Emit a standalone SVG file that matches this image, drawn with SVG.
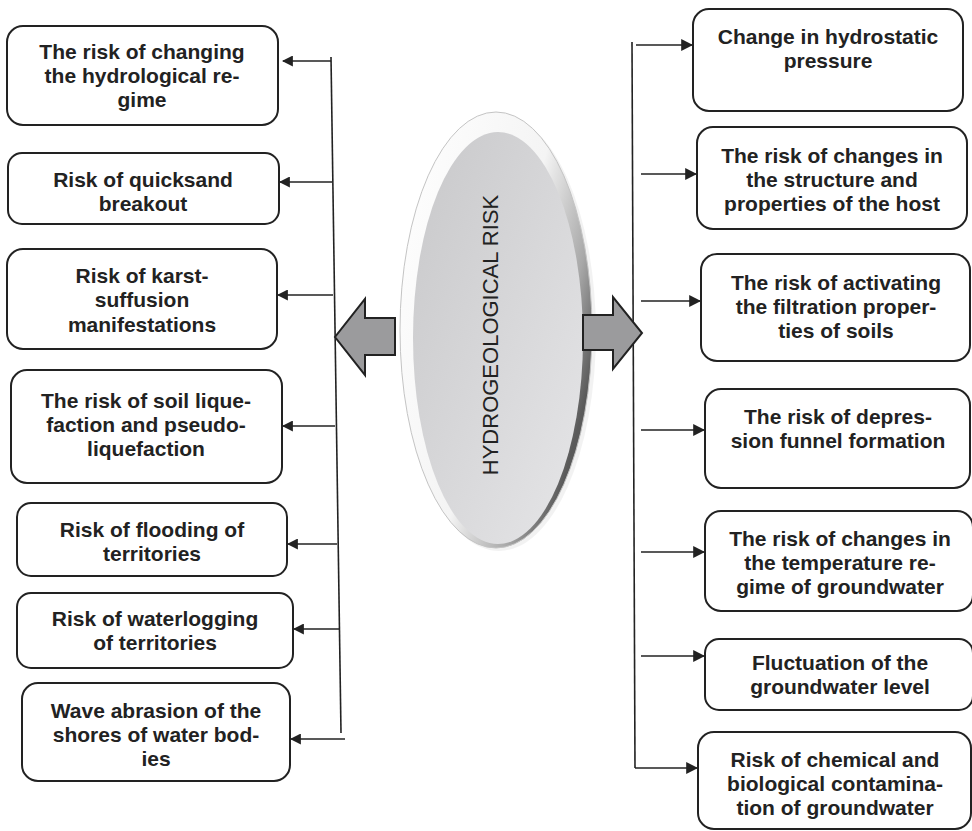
<svg xmlns="http://www.w3.org/2000/svg" width="972" height="831" viewBox="0 0 972 831">
<defs>
<style>
.box{fill:#fff;stroke:#222;stroke-width:2}
.t{font-family:"Liberation Sans",Arial,sans-serif;font-weight:bold;font-size:21px;fill:#222;text-anchor:middle}
.c{stroke:#222;stroke-width:1.6;fill:none}
.blk{fill:#9b9b9d;stroke:#222;stroke-width:2;stroke-linejoin:miter}
</style>
<marker id="ah" viewBox="0 0 10 10" refX="9" refY="5" markerWidth="11" markerHeight="11" markerUnits="userSpaceOnUse" orient="auto">
<path d="M0,0 L10,5 L0,10 z" fill="#222"/>
</marker>
<marker id="ahb" viewBox="0 0 10 10" refX="9" refY="5" markerWidth="12" markerHeight="12" markerUnits="userSpaceOnUse" orient="auto">
<path d="M0,0 L10,5 L0,10 z" fill="#222"/>
</marker>
<linearGradient id="face" x1="0" y1="0" x2="1" y2="1">
<stop offset="0" stop-color="#c8c8ca"/>
<stop offset="1" stop-color="#e6e6e8"/>
</linearGradient>
<linearGradient id="rim" x1="0" y1="0" x2="1" y2="0.6">
<stop offset="0" stop-color="#ffffff"/>
<stop offset="0.6" stop-color="#f4f4f4"/>
<stop offset="0.85" stop-color="#a8a8a8"/>
<stop offset="1" stop-color="#5a5a5a"/>
</linearGradient>
</defs>

<g id="connectors">
<line class="c" x1="331" y1="57" x2="341" y2="733"/>
<line class="c" x1="331" y1="61" x2="283" y2="61" marker-end="url(#ah)"/>
<line class="c" x1="332" y1="182" x2="280" y2="182" marker-end="url(#ah)"/>
<line class="c" x1="333" y1="295" x2="278" y2="295" marker-end="url(#ah)"/>
<line class="c" x1="335" y1="426" x2="283" y2="426" marker-end="url(#ah)"/>
<line class="c" x1="337" y1="544" x2="288" y2="544" marker-end="url(#ah)"/>
<line class="c" x1="339" y1="629" x2="294" y2="629" marker-end="url(#ah)"/>
<line class="c" x1="345" y1="739" x2="291" y2="739" marker-end="url(#ah)"/>

<line class="c" x1="632" y1="42" x2="635" y2="768"/>
<line class="c" x1="636" y1="45" x2="692" y2="45" marker-end="url(#ahb)"/>
<line class="c" x1="641" y1="174" x2="696" y2="174" marker-end="url(#ahb)"/>
<line class="c" x1="641" y1="301" x2="700" y2="301" marker-end="url(#ahb)"/>
<line class="c" x1="641" y1="430" x2="704" y2="430" marker-end="url(#ahb)"/>
<line class="c" x1="641" y1="552" x2="704" y2="552" marker-end="url(#ahb)"/>
<line class="c" x1="641" y1="656" x2="704" y2="656" marker-end="url(#ahb)"/>
<line class="c" x1="635" y1="768" x2="697" y2="768" marker-end="url(#ahb)"/>
</g>

<g id="center">
<ellipse cx="499" cy="333" rx="97" ry="218" fill="#000" opacity="0.05"/>
<ellipse cx="496" cy="330" rx="96" ry="218" fill="url(#rim)" stroke="#c4c4c4" stroke-width="1"/>
<ellipse cx="498" cy="338" rx="85" ry="206" fill="url(#face)"/>
<text x="0" y="0" transform="translate(490,335) rotate(-90)" style="font-family:'Liberation Sans',Arial,sans-serif;font-size:22px;fill:#222;text-anchor:middle;dominant-baseline:central">HYDROGEOLOGICAL RISK</text>
</g>

<g id="arrow-left">
<path class="blk" d="M395,318 L365,318 L365,299 L335,337 L365,375 L365,355 L395,355 z"/>
</g>
<g id="arrow-right">
<path class="blk" d="M583,315 L613,315 L613,297 L642,333 L613,369 L613,350 L583,350 z"/>
</g>

<g id="l1"><rect class="box" x="7" y="26" width="271" height="99" rx="16"/>
<text class="t" x="142" y="59">The risk of changing</text><text class="t" x="142" y="83">the hydrological re-</text><text class="t" x="142" y="107">gime</text></g>
<g id="l2"><rect class="box" x="8" y="153" width="271" height="71" rx="14"/>
<text class="t" x="143" y="187">Risk of quicksand</text><text class="t" x="143" y="211">breakout</text></g>
<g id="l3"><rect class="box" x="7" y="249" width="270" height="100" rx="16"/>
<text class="t" x="142" y="283">Risk of karst-</text><text class="t" x="142" y="307">suffusion</text><text class="t" x="142" y="332">manifestations</text></g>
<g id="l4"><rect class="box" x="11" y="370" width="271" height="113" rx="16"/>
<text class="t" x="146" y="408">The risk of soil lique-</text><text class="t" x="146" y="432">faction and pseudo-</text><text class="t" x="146" y="456">liquefaction</text></g>
<g id="l5"><rect class="box" x="17" y="503" width="270" height="73" rx="14"/>
<text class="t" x="152" y="537">Risk of flooding of</text><text class="t" x="152" y="561">territories</text></g>
<g id="l6"><rect class="box" x="17" y="593" width="276" height="75" rx="14"/>
<text class="t" x="155" y="626">Risk of waterlogging</text><text class="t" x="155" y="650">of territories</text></g>
<g id="l7"><rect class="box" x="22" y="683" width="268" height="98" rx="16"/>
<text class="t" x="156" y="718">Wave abrasion of the</text><text class="t" x="156" y="742">shores of water bod-</text><text class="t" x="156" y="766">ies</text></g>

<g id="r1"><rect class="box" x="693" y="9" width="270" height="102" rx="16"/>
<text class="t" x="828" y="44">Change in hydrostatic</text><text class="t" x="828" y="68">pressure</text></g>
<g id="r2"><rect class="box" x="697" y="127" width="270" height="102" rx="16"/>
<text class="t" x="832" y="163">The risk of changes in</text><text class="t" x="832" y="187">the structure and</text><text class="t" x="832" y="211">properties of the host</text></g>
<g id="r3"><rect class="box" x="701" y="254" width="269" height="107" rx="16"/>
<text class="t" x="836" y="290">The risk of activating</text><text class="t" x="836" y="314">the filtration proper-</text><text class="t" x="836" y="338">ties of soils</text></g>
<g id="r4"><rect class="box" x="705" y="389" width="265" height="99" rx="16"/>
<text class="t" x="838" y="424">The risk of depres-</text><text class="t" x="838" y="448">sion funnel formation</text></g>
<g id="r5"><rect class="box" x="705" y="511" width="268" height="100" rx="16"/>
<text class="t" x="840" y="546">The risk of changes in</text><text class="t" x="840" y="570">the temperature re-</text><text class="t" x="840" y="594">gime of groundwater</text></g>
<g id="r6"><rect class="box" x="705" y="639" width="268" height="71" rx="14"/>
<text class="t" x="840" y="670">Fluctuation of the</text><text class="t" x="840" y="694">groundwater level</text></g>
<g id="r7"><rect class="box" x="698" y="732" width="273" height="97" rx="16"/>
<text class="t" x="835" y="767">Risk of chemical and</text><text class="t" x="835" y="791">biological contamina-</text><text class="t" x="835" y="815">tion of groundwater</text></g>
</svg>
